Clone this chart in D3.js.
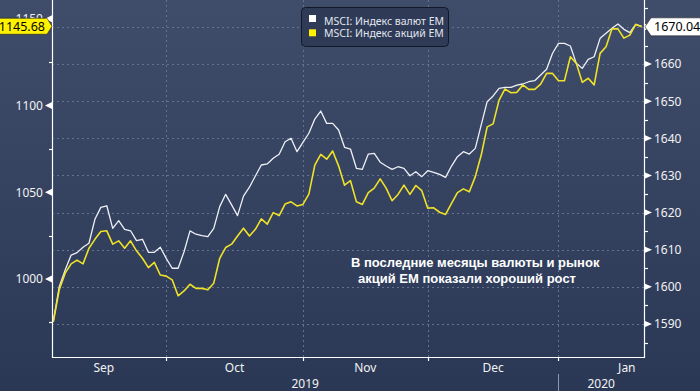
<!DOCTYPE html>
<html>
<head>
<meta charset="utf-8">
<script src="https://cdn.jsdelivr.net/npm/d3@7"></script>
<style>
  body { margin: 0; background: #2b3a57; }
  svg { display: block; }
</style>
</head>
<body>
<svg id="chart" width="700" height="391"></svg>
<script>
// trading days from first to last point (weekdays only)
var startDate = "2019-09-04";
var endDate = "2020-01-21";

// MSCI EM currency index (left axis)
var fxIndex = [975.4, 995.6, 1005.2, 1013.8, 1015.2, 1018.3, 1020.6, 1034.4, 1041.3, 1042.2,
  1029.2, 1033.6, 1028.6, 1027.8, 1022.1, 1022.9, 1015.4, 1015.4, 1018.3, 1011.9,
  1006.2, 1006.2, 1015.7, 1027.7, 1025.8, 1025.0, 1024.4, 1029.2, 1041.7, 1048.8,
  1042.7, 1036.5, 1047.8, 1052.9, 1059.4, 1065.7, 1066.3, 1069.6, 1071.9, 1079.1,
  1081.1, 1073.4, 1078.8, 1084.0, 1092.2, 1096.8, 1089.7, 1089.7, 1085.9, 1075.9,
  1074.9, 1063.8, 1063.2, 1072.0, 1072.4, 1067.3, 1065.1, 1063.2, 1064.7, 1063.8,
  1059.5, 1061.8, 1059.0, 1062.4, 1061.5, 1060.3, 1058.6, 1065.1, 1070.5, 1073.4,
  1072.0, 1075.3, 1088.8, 1102.2, 1105.5, 1109.9, 1110.5, 1110.5, 1111.8, 1112.4,
  1113.7, 1114.3, 1117.6, 1120.9, 1130.1, 1135.8, 1135.8, 1134.3, 1124.3, 1121.4,
  1126.6, 1128.1, 1138.7, 1141.6, 1144.5, 1147.0, 1143.9, 1142.0, 1146.8, 1145.68];

// MSCI EM equity index (right axis)
var eqIndex = [1590.6, 1599.2, 1603.7, 1606.2, 1607.2, 1606.2, 1610.4, 1612.8, 1614.9, 1615.1,
  1611.5, 1612.4, 1610.4, 1612.4, 1609.7, 1607.7, 1605.2, 1606.6, 1603.2, 1602.9,
  1601.9, 1597.6, 1598.9, 1600.7, 1599.6, 1599.6, 1599.2, 1601.0, 1607.7, 1610.6,
  1611.5, 1613.7, 1615.8, 1613.7, 1615.5, 1618.3, 1616.9, 1620.0, 1619.2, 1622.3,
  1622.9, 1621.8, 1622.2, 1625.0, 1632.8, 1635.7, 1634.4, 1636.6, 1632.6, 1627.4,
  1628.6, 1622.9, 1622.2, 1625.4, 1626.6, 1629.1, 1626.6, 1623.2, 1624.9, 1627.4,
  1624.9, 1627.3, 1625.9, 1621.2, 1621.3, 1620.1, 1619.5, 1622.5, 1625.4, 1626.4,
  1625.6, 1629.7, 1635.5, 1643.1, 1643.9, 1650.3, 1653.3, 1652.3, 1652.4, 1654.4,
  1653.2, 1653.2, 1654.6, 1657.5, 1657.5, 1655.5, 1655.5, 1662.0, 1660.2, 1655.1,
  1656.2, 1654.4, 1662.9, 1664.7, 1669.5, 1669.5, 1667.0, 1667.8, 1670.7, 1670.04];

var leftTicks = [1000, 1050, 1100, 1150];
var leftMinor = [975, 1025, 1075, 1125];
var rightTicks = [1590, 1600, 1610, 1620, 1630, 1640, 1650, 1660, 1670];
var rightMinor = [1585, 1595, 1605, 1615, 1625, 1635, 1645, 1655, 1665, 1675];
var monthLabels = ["Sep", "Oct", "Nov", "Dec", "Jan"];
var yearLabels = ["2019", "2020"];
var seriesNames = ["MSCI: Индекс валют EM", "MSCI: Индекс акций EM"];
var lineColors = ["#eef0f6", "#efe227"];
var swatchColors = ["#ffffff", "#fff200"];
var noteLines = ["В последние месяцы валюты и рынок", "акций EM показали хороший рост"];

var svg = d3.select("#chart"),
  width = +svg.attr("width"),
  height = +svg.attr("height");

var plotL = 52, plotR = 644, plotT = 0, plotB = 357;

// background gradient
var grad = svg.append("defs").append("linearGradient")
  .attr("id", "bg").attr("x1", 0).attr("y1", 0).attr("x2", 0).attr("y2", 1);
grad.append("stop").attr("offset", "0%").attr("stop-color", "#3f4c6a");
grad.append("stop").attr("offset", "100%").attr("stop-color", "#2a3856");
svg.append("rect").attr("width", width).attr("height", height).attr("fill", "url(#bg)");

// weekday calendar, used as the x index
var parse = d3.timeParse("%Y-%m-%d");
var allDays = d3.timeDay.range(new Date(2019, 8, 1), new Date(2020, 2, 1))
  .filter(function(d) { return d.getDay() > 0 && d.getDay() < 6; });
var t0 = parse(startDate), t1 = parse(endDate);
var base = allDays.findIndex(function(d) { return +d >= +t0; });
function dayIndex(date) {
  return allDays.findIndex(function(d) { return +d >= +date; }) - base;
}
var days = allDays.filter(function(d) { return d >= t0 && d <= t1; });

var x = d3.scaleLinear().domain([0, days.length - 1]).range([53.3, 641.7]);
var yL = d3.scaleLinear().domain([955.04, 1160.81]).range([plotB, plotT]);
var yR = d3.scaleLinear().domain([1581.11, 1677.27]).range([plotB, plotT]);

// month starts (first weekday of each month)
var monthStarts = d3.timeMonth.range(new Date(2019, 8, 1), new Date(2020, 2, 1)).map(dayIndex);

// gridlines
var grid = svg.append("g").attr("stroke", "#62728f").attr("stroke-dasharray", "2,3").attr("stroke-width", 1);
grid.selectAll(".h").data(rightTicks).enter().append("line")
  .attr("x1", plotL).attr("x2", plotR)
  .attr("y1", function(d) { return Math.round(yR(d)) + 0.5; })
  .attr("y2", function(d) { return Math.round(yR(d)) + 0.5; });
grid.selectAll(".v").data(monthStarts.slice(1, 5)).enter().append("line")
  .attr("x1", function(d) { return Math.round(x(d)) + 0.5; })
  .attr("x2", function(d) { return Math.round(x(d)) + 0.5; })
  .attr("y1", plotT).attr("y2", plotB);

// lines
var lineL = d3.line().x(function(d, i) { return x(i); }).y(function(d) { return yL(d); });
var lineR = d3.line().x(function(d, i) { return x(i); }).y(function(d) { return yR(d); });
svg.append("path").datum(fxIndex).attr("d", lineL)
  .attr("fill", "none").attr("stroke", lineColors[0]).attr("stroke-width", 1.3).attr("stroke-linejoin", "round");
svg.append("path").datum(eqIndex).attr("d", lineR)
  .attr("fill", "none").attr("stroke", lineColors[1]).attr("stroke-width", 1.6).attr("stroke-linejoin", "round");

// axes frame
var ax = svg.append("g").attr("stroke", "#ffffff").attr("stroke-width", 1.2).attr("fill", "none");
ax.append("path").attr("d", "M" + (plotL + 0.5) + "," + plotT + "V" + (plotB + 0.5) + "H" + (plotR + 0.5) + "V" + plotT);

// left axis
ax.selectAll(".lm").data(leftMinor).enter().append("line")
  .attr("x1", plotL - 3).attr("x2", plotL)
  .attr("y1", function(d) { return Math.round(yL(d)) + 0.5; })
  .attr("y2", function(d) { return Math.round(yL(d)) + 0.5; });
svg.selectAll(".lt").data(leftTicks).enter().append("path")
  .attr("fill", "#ffffff")
  .attr("d", function(d) { var y = yL(d); return "M" + (plotL - 7) + "," + y + "L" + plotL + "," + (y - 3.5) + "L" + plotL + "," + (y + 3.5) + "Z"; });
svg.selectAll(".ll").data(leftTicks).enter().append("text")
  .attr("x", plotL - 9).attr("y", function(d) { return yL(d); })
  .attr("dy", "0.36em").attr("text-anchor", "end")
  .attr("font-family", "Noto Sans").attr("font-size", 12).attr("fill", "#f2f2f2")
  .text(function(d) { return d; });

// right axis
ax.selectAll(".rm").data(rightMinor).enter().append("line")
  .attr("x1", plotR).attr("x2", plotR + 4)
  .attr("y1", function(d) { return Math.round(yR(d)) + 0.5; })
  .attr("y2", function(d) { return Math.round(yR(d)) + 0.5; });
svg.selectAll(".rt").data(rightTicks).enter().append("path")
  .attr("fill", "#ffffff")
  .attr("d", function(d) { var y = yR(d); return "M" + (plotR + 8) + "," + y + "L" + plotR + "," + (y - 3.5) + "L" + plotR + "," + (y + 3.5) + "Z"; });
svg.selectAll(".rl").data(rightTicks).enter().append("text")
  .attr("x", plotR + 10).attr("y", function(d) { return yR(d); })
  .attr("dy", "0.36em")
  .attr("font-family", "Noto Sans").attr("font-size", 12).attr("fill", "#f2f2f2")
  .text(function(d) { return d; });

// x axis: month ticks, month labels, years
ax.selectAll(".xt").data(monthStarts.slice(1, 5)).enter().append("line")
  .attr("x1", function(d) { return Math.round(x(d)) + 0.5; })
  .attr("x2", function(d) { return Math.round(x(d)) + 0.5; })
  .attr("y1", plotB).attr("y2", plotB + 4);
svg.selectAll(".ml").data(monthLabels).enter().append("text")
  .attr("x", function(d, i) { return (x(monthStarts[i]) + x(monthStarts[i + 1])) / 2; })
  .attr("y", 372).attr("text-anchor", "middle")
  .attr("font-family", "Noto Sans").attr("font-size", 12).attr("fill", "#f2f2f2")
  .text(function(d) { return d; });
var yearEdge = x(monthStarts[4]);
var yearSpans = [[plotL, yearEdge], [yearEdge, plotR]];
svg.selectAll(".yl").data(yearLabels).enter().append("text")
  .attr("x", function(d, i) { return (yearSpans[i][0] + yearSpans[i][1]) / 2; })
  .attr("y", 388).attr("text-anchor", "middle")
  .attr("font-family", "Noto Sans").attr("font-size", 12).attr("fill", "#f2f2f2")
  .text(function(d) { return d; });
svg.append("line")
  .attr("x1", Math.round(yearEdge) + 0.5).attr("x2", Math.round(yearEdge) + 0.5)
  .attr("y1", 374).attr("y2", height)
  .attr("stroke", "#8c98ab").attr("stroke-width", 1);

// last value labels
var lastL = fxIndex[fxIndex.length - 1], lastR = eqIndex[eqIndex.length - 1];
var ly = yL(lastL);
svg.append("path").attr("fill", "#fff200").attr("stroke", "#222").attr("stroke-width", 0.6)
  .attr("d", "M-2," + (ly - 8) + "H47L" + plotL + "," + ly + "L47," + (ly + 8) + "H-2Z");
svg.append("text").attr("x", 45).attr("y", ly).attr("dy", "0.36em").attr("text-anchor", "end")
  .attr("font-family", "Noto Sans").attr("font-size", 12.5).attr("fill", "#000")
  .text(lastL.toFixed(2));
var ry = yR(lastR);
svg.append("path").attr("fill", "#ffffff").attr("stroke", "#222").attr("stroke-width", 0.6)
  .attr("d", "M" + (plotR + 1) + "," + ry + "L" + (plotR + 7) + "," + (ry - 9) + "H702V" + (ry + 9) + "H" + (plotR + 7) + "Z");
svg.append("text").attr("x", plotR + 10).attr("y", ry).attr("dy", "0.36em")
  .attr("font-family", "Noto Sans").attr("font-size", 12.5).attr("fill", "#000")
  .text(lastR.toFixed(2));

// legend
var lg = svg.append("g");
lg.append("rect").attr("x", 301.5).attr("y", 7.5).attr("width", 147).attr("height", 39).attr("rx", 4)
  .attr("fill", "#2e3a56").attr("stroke", "#121827");
lg.selectAll("rect.sw").data(seriesNames).enter().append("rect")
  .attr("x", 309).attr("y", function(d, i) { return 15 + i * 14.3; })
  .attr("width", 7).attr("height", 7)
  .attr("fill", function(d, i) { return swatchColors[i]; });
lg.selectAll("text").data(seriesNames).enter().append("text")
  .attr("x", 324).attr("y", function(d, i) { return 24.5 + i * 12.5; })
  .attr("font-family", "Noto Sans").attr("font-size", 10.5).attr("fill", "#e2e6ee")
  .text(function(d) { return d; });

// annotation
svg.selectAll(".note").data(noteLines).enter().append("text")
  .attr("x", function(d, i) { return i === 0 ? 351 : 358; })
  .attr("y", function(d, i) { return 267 + i * 16; })
  .attr("font-family", "Liberation Sans").attr("font-weight", "bold").attr("font-size", 13)
  .attr("fill", "#ffffff")
  .text(function(d) { return d; });
</script>
</body>
</html>
